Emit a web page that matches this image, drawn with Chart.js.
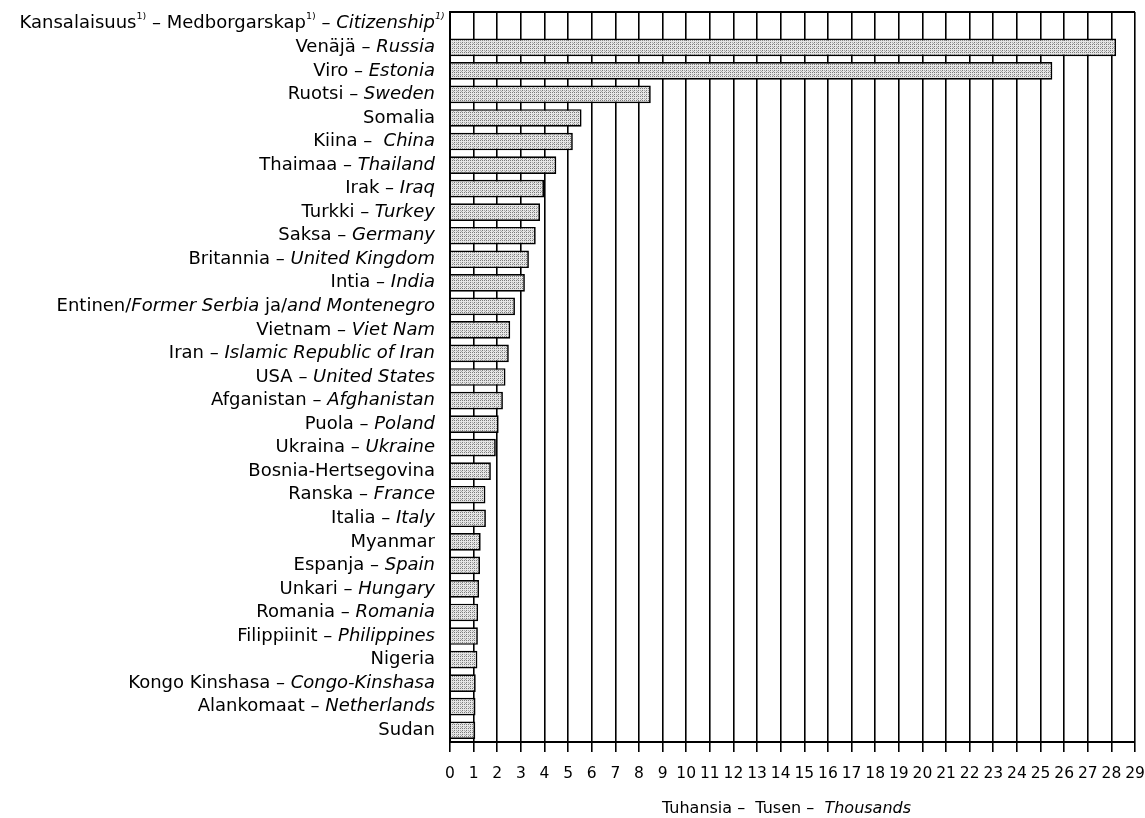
<!DOCTYPE html>
<html>
<head>
<meta charset="utf-8">
<script src="https://cdn.jsdelivr.net/npm/chart.js@4/dist/chart.umd.min.js"></script>
<style>
  html, body { margin: 0; padding: 0; background: #fff; }
  #wrap { width: 1145px; height: 818px; }
</style>
</head>
<body>
<div id="wrap"><canvas id="citizenChart" width="1145" height="818"></canvas></div>
<script>
"use strict";

// *text* = italic, ^text^ = superscript
const headerLabel = `Kansalaisuus^1)^ – Medborgarskap^1)^ – *Citizenship^1)^*`;

const countries = [
  `Venäjä – *Russia*`,
  `Viro – *Estonia*`,
  `Ruotsi – *Sweden*`,
  `Somalia`,
  `Kiina –  *China*`,
  `Thaimaa – *Thailand*`,
  `Irak – *Iraq*`,
  `Turkki – *Turkey*`,
  `Saksa – *Germany*`,
  `Britannia – *United Kingdom*`,
  `Intia – *India*`,
  `Entinen/*Former Serbia* ja/*and Montenegro*`,
  `Vietnam – *Viet Nam*`,
  `Iran – *Islamic Republic of Iran*`,
  `USA – *United States*`,
  `Afganistan – *Afghanistan*`,
  `Puola – *Poland*`,
  `Ukraina – *Ukraine*`,
  `Bosnia-Hertsegovina`,
  `Ranska – *France*`,
  `Italia – *Italy*`,
  `Myanmar`,
  `Espanja – *Spain*`,
  `Unkari – *Hungary*`,
  `Romania – *Romania*`,
  `Filippiinit – *Philippines*`,
  `Nigeria`,
  `Kongo Kinshasa – *Congo-Kinshasa*`,
  `Alankomaat – *Netherlands*`,
  `Sudan`
];

// thousands of persons
const thousands = [
  28.2, 25.5, 8.5, 5.57, 5.2, 4.5, 3.98, 3.81, 3.63, 3.34,
  3.17, 2.75, 2.55, 2.49, 2.35, 2.24, 2.06, 1.94, 1.73, 1.5,
  1.52, 1.3, 1.27, 1.23, 1.19, 1.18, 1.16, 1.09, 1.08, 1.07
];

const xMin = 0;
const xMax = 29;
const xTitle = `Tuhansia –  Tusen –  *Thousands*`;

const fontFamily = `"DejaVu Sans", sans-serif`;
const fontSize = 18;

// header row has no bar
const rowLabels = [headerLabel].concat(countries);
const rowValues = [null].concat(thousands);

// dotted grey fill like the printed raster
function makePattern() {
  const c = document.createElement(`canvas`);
  c.width = 4;
  c.height = 4;
  const g = c.getContext(`2d`);
  g.fillStyle = `#e6e6e6`;
  g.fillRect(0, 0, 4, 4);
  g.fillStyle = `#7a7a7a`;
  g.fillRect(0, 0, 1, 1);
  g.fillRect(2, 2, 1, 1);
  g.fillRect(2, 0, 1, 1);
  g.fillStyle = `#a8a8a8`;
  g.fillRect(0, 2, 1, 1);
  g.fillRect(1, 3, 1, 1);
  return g.createPattern(c, `repeat`);
}

function parseMarkup(str) {
  const segs = [];
  let italic = false;
  let sup = false;
  let buf = ``;
  const flush = () => {
    if (buf) segs.push({ text: buf, italic, sup });
    buf = ``;
  };
  for (const ch of str) {
    if (ch === `*`) { flush(); italic = !italic; }
    else if (ch === `^`) { flush(); sup = !sup; }
    else buf += ch;
  }
  flush();
  return segs;
}

function segFont(seg, size) {
  const s = seg.sup ? 9.5 : size;
  return `${seg.italic ? `italic ` : ``}${s}px ${fontFamily}`;
}

function drawRich(ctx, str, xRef, y, align, size) {
  const segs = parseMarkup(str);
  let total = 0;
  let trailingSup = 0;
  segs.forEach((s, i) => {
    ctx.font = segFont(s, size);
    s.w = ctx.measureText(s.text).width;
    total += s.w;
    if (s.sup && i === segs.length - 1) trailingSup = s.w;
  });
  let x = align === `center` ? xRef - total / 2 : xRef - (total - trailingSup);
  segs.forEach((s) => {
    ctx.font = segFont(s, size);
    ctx.fillText(s.text, x, s.sup ? y - 7 : y);
    x += s.w;
  });
}

const labelPlugin = {
  id: `richLabels`,
  beforeDatasetsDraw(chart) {
    const { ctx, chartArea } = chart;
    ctx.save();
    ctx.strokeStyle = `#000`;
    ctx.lineWidth = 2;
    ctx.beginPath();
    ctx.moveTo(chartArea.left, chartArea.top);
    ctx.lineTo(chartArea.right, chartArea.top);
    ctx.stroke();
    ctx.restore();
  },
  afterDraw(chart) {
    const { ctx, chartArea, scales } = chart;
    ctx.save();
    ctx.fillStyle = `#000`;
    ctx.textBaseline = `middle`;
    ctx.textAlign = `left`;
    rowLabels.forEach((lab, i) => {
      const y = scales.y.getPixelForValue(i);
      drawRich(ctx, lab, chartArea.left - 15, y, `right`, fontSize);
    });
    const cx = (chartArea.left + chartArea.right) / 2 - 6;
    drawRich(ctx, xTitle, cx, scales.x.bottom - 9, `center`, 16);
    ctx.restore();
  }
};

const ctx = document.getElementById(`citizenChart`).getContext(`2d`);
const chart = new Chart(ctx, {
  type: `bar`,
  data: {
    labels: rowLabels,
    datasets: [
      {
        data: rowValues,
        backgroundColor: makePattern(),
        borderColor: `#000`,
        borderWidth: 1.7,
        barPercentage: 0.75,
        categoryPercentage: 1
      }
    ]
  },
  options: {
    indexAxis: `y`,
    responsive: false,
    animation: false,
    layout: { padding: { left: 450, top: 12, right: 0, bottom: 0 } },
    plugins: {
      legend: { display: false },
      tooltip: { enabled: false }
    },
    scales: {
      x: {
        min: xMin,
        max: xMax,
        afterFit: (scale) => {
          scale.height = 76;
          scale.paddingLeft = 0;
          scale.paddingRight = 10;
        },
        ticks: {
          stepSize: 1,
          autoSkip: false,
          maxRotation: 0,
          padding: 13,
          color: `#000`,
          font: { family: fontFamily, size: 15.5 }
        },
        grid: { color: `#000`, lineWidth: 1.6, tickLength: 10, tickColor: `#000` },
        border: { color: `#000`, width: 2 }
      },
      y: {
        afterFit: (scale) => { scale.width = 0; },
        ticks: { display: false },
        grid: { display: false },
        border: { display: true, color: `#000`, width: 2 }
      }
    }
  },
  plugins: [labelPlugin]
});
</script>
</body>
</html>
